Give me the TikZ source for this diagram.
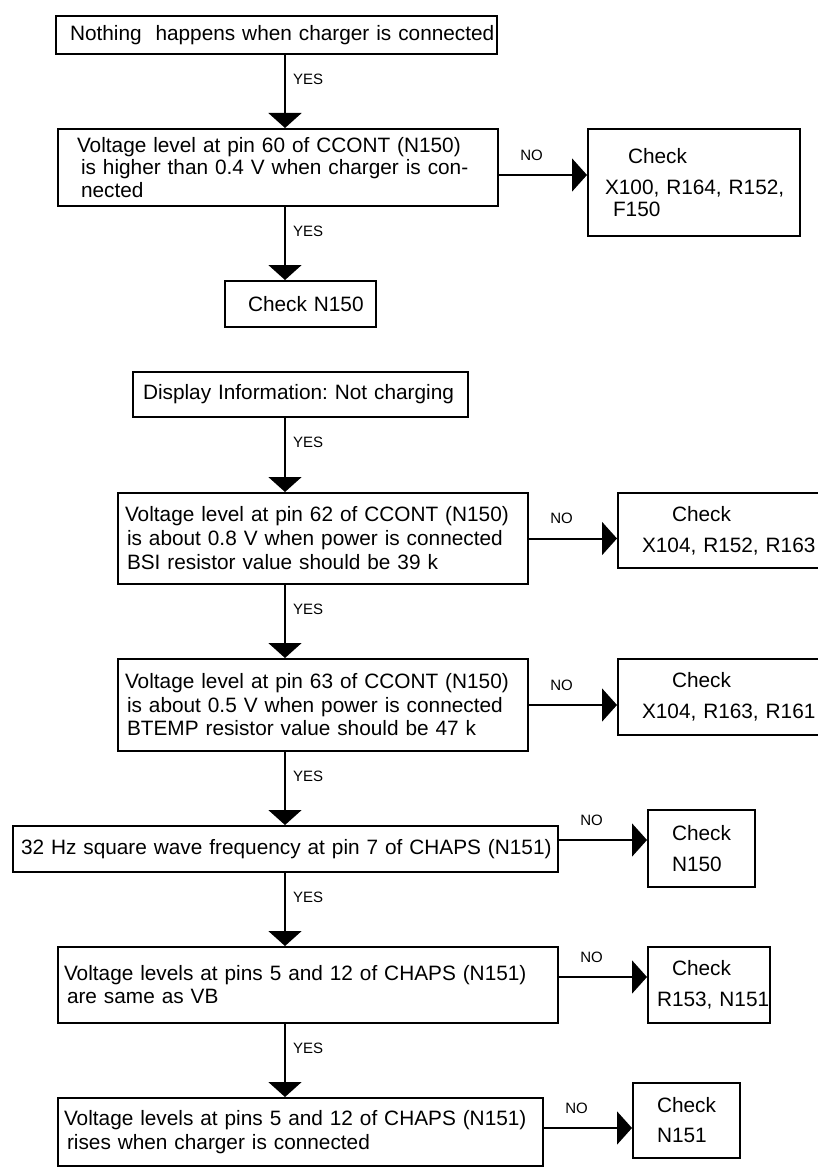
\documentclass[tikz,border=0pt]{standalone}
\usepackage{fontspec}
\setmainfont{Liberation Sans}
\usetikzlibrary{arrows.meta}
\setlength{\parindent}{0pt}
\frenchspacing
\newcommand{\flowfont}{\fontsize{20.8pt}{23.5pt}\selectfont}
\newcommand{\labelfont}{\fontsize{15pt}{18pt}\selectfont}
\newcommand{\fline}[2]{\mbox{\hspace*{#1}#2}}
\tikzset{
    flowbox/.style={draw, line width=2pt, anchor=north west, inner sep=0pt, align=left, font=\flowfont},
    boxsize/.style 2 args={text width=#1, minimum height=#2},
    flowline/.style={line width=2pt, -{Triangle[width=33pt,length=15pt]}},
    yeslabel/.style={pos=0.33, anchor=west, xshift=7pt, inner sep=0pt, font=\labelfont},
    nolabel/.style={pos=0.37, yshift=20pt, inner sep=0pt, font=\labelfont}
}
\begin{document}
\begin{tikzpicture}[x=1pt, y=-1pt]
        \useasboundingbox (0,0) rectangle (818,1169);
        \clip (0,0) rectangle (818,1169);
        \coordinate (spine) at (285,0);
        % first chart
        \node[flowbox, boxsize={441pt}{38pt}] (nothing) at (55,15) {\fline{14pt}{Nothing\ \ happens when charger is connected}};
        \node[flowbox, boxsize={440pt}{77pt}, font=\fontsize{20.8pt}{22.5pt}\selectfont] (pinsixty) at (57,128) {\fline{19pt}{Voltage level at pin 60 of CCONT (N150)}\\\fline{23pt}{is higher than 0.4 V when charger is con-}\\\fline{23pt}{nected}};
        \node[flowbox, boxsize={212pt}{107pt}] (chkxhundred) at (587,128) {\fline{40pt}{Check}\\[7.5pt]\fline{17pt}{X100, R164, R152,}\\[-1.5pt]\fline{25pt}{F150}};
        \node[flowbox, boxsize={151pt}{46pt}] (chkccont) at (224,280) {\fline{23pt}{Check N150}};
        \draw[flowline] (spine |- nothing.south) -- (spine |- pinsixty.north) node[yeslabel] {YES};
        \draw[flowline] (spine |- pinsixty.south) -- (spine |- chkccont.north) node[yeslabel] {YES};
        \coordinate (nosixty) at ([yshift=-7.5pt]pinsixty.east);
        \draw[flowline] (nosixty) -- (nosixty -| chkxhundred.west) node[nolabel] {NO};
        % second chart
        \node[flowbox, boxsize={335pt}{45pt}] (display) at (132,371) {\fline{10pt}{Display Information: Not charging}};
        \node[flowbox, boxsize={410pt}{91pt}, font=\fontsize{20.8pt}{24pt}\selectfont] (pinsixtytwo) at (117,492) {\fline{7pt}{Voltage level at pin 62 of CCONT (N150)}\\\fline{9pt}{is about 0.8 V when power is connected}\\\fline{9pt}{BSI resistor value should be 39 k}};
        \node[flowbox, boxsize={205pt}{75pt}] (chkbsi) at (617,492) {\fline{54pt}{Check}\\[7.5pt]\fline{24pt}{X104, R152, R163}};
        \node[flowbox, boxsize={410pt}{92pt}] (pinsixtythree) at (117,658) {\fline{7pt}{Voltage level at pin 63 of CCONT (N150)}\\\fline{9pt}{is about 0.5 V when power is connected}\\\fline{9pt}{BTEMP resistor value should be 47 k}};
        \node[flowbox, boxsize={205pt}{76pt}] (chkbtemp) at (617,658) {\fline{54pt}{Check}\\[7.5pt]\fline{24pt}{X104, R163, R161}};
        \node[flowbox, boxsize={545pt}{46pt}] (wave) at (12,825) {\fline{8pt}{32 Hz square wave frequency at pin 7 of CHAPS (N151)}};
        \node[flowbox, boxsize={107pt}{77pt}] (chkwave) at (647,809) {\fline{24pt}{Check}\\[7.5pt]\fline{24pt}{N150}};
        \node[flowbox, boxsize={500pt}{76pt}, font=\fontsize{20.8pt}{23pt}\selectfont] (chapsvb) at (57,946) {\fline{6pt}{Voltage levels at pins 5 and 12 of CHAPS (N151)}\\\fline{9pt}{are same as VB}};
        \node[flowbox, boxsize={122pt}{76pt}] (chkvb) at (647,946) {\fline{24pt}{Check}\\[7.5pt]\fline{9pt}{R153, N151}};
        \node[flowbox, boxsize={485pt}{68pt}, font=\fontsize{20.8pt}{24pt}\selectfont] (chapsrise) at (57,1097) {\fline{6pt}{Voltage levels at pins 5 and 12 of CHAPS (N151)}\\\fline{9pt}{rises when charger is connected}};
        \node[flowbox, boxsize={107pt}{75pt}] (chkrise) at (632,1082) {\fline{24pt}{Check}\\[6.5pt]\fline{24pt}{N151}};
        \draw[flowline] (spine |- display.south) -- (spine |- pinsixtytwo.north) node[yeslabel] {YES};
        \draw[flowline] (spine |- pinsixtytwo.south) -- (spine |- pinsixtythree.north) node[yeslabel] {YES};
        \draw[flowline] (spine |- pinsixtythree.south) -- (spine |- wave.north) node[yeslabel] {YES};
        \draw[flowline] (spine |- wave.south) -- (spine |- chapsvb.north) node[yeslabel] {YES};
        \draw[flowline] (spine |- chapsvb.south) -- (spine |- chapsrise.north) node[yeslabel] {YES};
        \draw[flowline] (pinsixtytwo.east) -- (pinsixtytwo.east -| chkbsi.west) node[nolabel] {NO};
        \draw[flowline] (pinsixtythree.east) -- (pinsixtythree.east -| chkbtemp.west) node[nolabel] {NO};
        \coordinate (nowave) at ([yshift=9pt]wave.east);
        \draw[flowline] (nowave) -- (nowave -| chkwave.west) node[nolabel] {NO};
        \coordinate (novb) at ([yshift=8pt]chapsvb.east);
        \draw[flowline] (novb) -- (novb -| chkvb.west) node[nolabel] {NO};
        \coordinate (norise) at ([yshift=4pt]chapsrise.east);
        \draw[flowline] (norise) -- (norise -| chkrise.west) node[nolabel] {NO};
    \end{tikzpicture}
\end{document}
